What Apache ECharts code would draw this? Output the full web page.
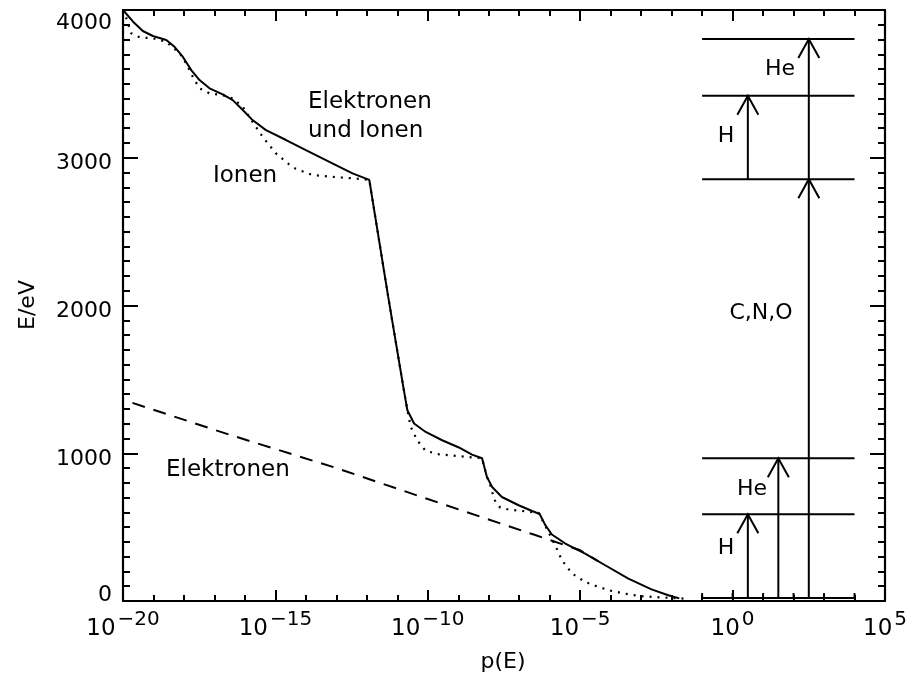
<!DOCTYPE html>
<html><head><meta charset="utf-8">
<script src="https://cdn.jsdelivr.net/npm/echarts@6/dist/echarts.min.js"></script>
<style>html,body{margin:0;padding:0;background:#fff}#c{width:910px;height:677px}</style>
</head><body><div id="c"></div>
<script>
// ---- data (x values are log10 p(E), y values E in eV) ----
const xTickExps = [-20, -15, -10, -5, 0, 5];
const yTickVals = [0, 1000, 2000, 3000, 4000];

// "Elektronen und Ionen" (solid)
const bothLogP = [-20.0,-19.67,-19.35,-19.02,-18.58,-18.31,-18.04,-17.76,-17.49,-17.16,-16.73,-16.40,-16.07,-15.75,-15.31,-14.65,-14.0,-13.13,-12.47,-11.92,-11.3,-10.78,-10.67,-10.45,-10.07,-9.53,-8.98,-8.55,-8.22,-8.06,-7.89,-7.57,-7.02,-6.58,-6.33,-6.15,-5.93,-5.49,-4.84,-4.18,-3.42,-2.66,-2.11,-1.75];
const bothE    = [4000,3921,3858,3824,3797,3751,3684,3593,3526,3470,3429,3390,3323,3255,3187,3120,3052,2962,2894,2850,2060,1420,1291,1201,1144,1088,1039,991,966,840,772,704,648,609,589,515,450,389,321,242,152,79,39,18];

// "Ionen" (dotted)
const ionLogP = [-20.0,-19.94,-19.84,-19.73,-19.45,-19.02,-18.58,-18.14,-17.93,-17.71,-17.49,-17.16,-16.73,-16.40,-16.07,-15.75,-15.42,-14.98,-14.55,-14.33,-13.78,-12.91,-12.15,-11.92,-11.3,-10.78,-10.67,-10.56,-10.35,-10.07,-9.64,-8.98,-8.33,-8.22,-8.06,-7.96,-7.84,-7.76,-7.62,-7.35,-6.8,-6.36,-6.33,-6.1,-5.82,-5.6,-5.27,-4.84,-4.4,-3.97,-3.4,-2.98,-2.22,-1.56];
const ionE    = [4000,3977,3910,3842,3815,3808,3785,3707,3639,3548,3470,3436,3424,3402,3345,3243,3142,3029,2955,2925,2883,2867,2856,2850,2060,1420,1291,1178,1088,1016,993,980,968,966,840,790,704,660,632,619,607,596,589,490,377,276,186,129,95,68,45,32,23,16];

// "Elektronen" (dashed)
const elecLogP = [-20, -16.5, -13, -10, -6.5, -5, -4.4];
const elecE    = [1362, 1125, 900, 690, 448, 343, 268];

// thresholds on the right (E / eV), drawn from p = 10^-1 to 10^4
const levelE = [20, 587, 966, 2855, 3420, 3803];
const levelSpan = [-1, 4];
const levelTickExps = [-1, 0, 1, 2, 3, 4];

// arrows: position (log10 p), from E, to E
const arrowLogP = [0.5, 1.5, 2.5, 0.5, 2.5];
const arrowFrom = [20, 20, 20, 2855, 2855];
const arrowTo   = [587, 966, 2855, 3420, 3803];

// ---- chart ----
const FONT = 'DejaVu Sans';
const zip = (a, b) => a.map((v, i) => [v, b[i]]);
const blk = '#000';

function xAxisDef(pos, labels) {
  return {
    type: 'value', min: -20, max: 5, interval: 5, position: pos,
    axisLine: { show: true, onZero: false, lineStyle: { color: blk, width: 2.2 } },
    axisTick: { show: true, inside: true, length: 11, lineStyle: { color: blk, width: 2 } },
    minorTick: { show: true, splitNumber: 5, length: 6, lineStyle: { color: blk, width: 2 } },
    splitLine: { show: false }, minorSplitLine: { show: false },
    axisLabel: labels ? {
      show: true, margin: 8,
      formatter: v => '{b|10}{s|' + (v < 0 ? '\u2212' : '') + Math.abs(v) + '}',
      rich: {
        b: { fontFamily: FONT, fontSize: 23, color: blk, verticalAlign: 'bottom', lineHeight: 32 },
        s: { fontFamily: FONT, fontSize: 20, color: blk, verticalAlign: 'top', lineHeight: 32, padding: [1, 0, 0, 2] }
      }
    } : { show: false }
  };
}
function yAxisDef(pos, labels) {
  return {
    type: 'value', min: 0, max: 4000, interval: 1000, position: pos,
    axisLine: { show: true, onZero: false, lineStyle: { color: blk, width: 2.2 } },
    axisTick: { show: true, inside: true, length: 15, lineStyle: { color: blk, width: 2 } },
    minorTick: { show: true, splitNumber: 10, length: 7, lineStyle: { color: blk, width: 2 } },
    splitLine: { show: false }, minorSplitLine: { show: false },
    axisLabel: labels ? {
      show: true, margin: 11,
      formatter: v => v === 4000 ? '{hi|' + v + '}' : (v === 0 ? '{lo|' + v + '}' : '{n|' + v + '}'),
      rich: {
        n: { fontFamily: FONT, fontSize: 22, color: blk, padding: [12, 0, 0, 0] },
        hi: { fontFamily: FONT, fontSize: 22, color: blk, padding: [26, 0, 0, 0] },
        lo: { fontFamily: FONT, fontSize: 22, color: blk, padding: [0, 0, 11, 0] }
      }
    } : { show: false }
  };
}

function txt(text, x, y, size, align, rot) {
  return {
    type: 'text', x: x, y: y, rotation: rot || 0, z: 100,
    style: { text: text, fontFamily: FONT, fontSize: size, fill: blk,
      align: align || 'left', verticalAlign: 'middle',
      textAlign: align || 'left', textVerticalAlign: 'middle' }
  };
}

const chart = echarts.init(document.getElementById('c'));
chart.setOption({
  animation: false,
  backgroundColor: '#fff',
  grid: { left: 123, right: 23, top: 10, bottom: 76, containLabel: false },
  xAxis: [xAxisDef('bottom', true), xAxisDef('top', false)],
  yAxis: [yAxisDef('left', true), yAxisDef('right', false)],
  series: [
    { type: 'line', data: zip(elecLogP, elecE), showSymbol: false, symbol: 'none',
      lineStyle: { color: blk, width: 2, type: [13, 9], dashOffset: 12 }, z: 3 },
    { type: 'line', data: zip(ionLogP, ionE), showSymbol: false, symbol: 'none',
      lineStyle: { color: blk, width: 2.2, type: [2, 6], cap: 'butt' }, z: 4 },
    { type: 'line', data: zip(bothLogP, bothE), showSymbol: false, symbol: 'none',
      lineStyle: { color: blk, width: 2 }, z: 5 },
    { type: 'custom', data: levelE.map(e => [levelSpan[0], levelSpan[1], e]),
      encode: { x: [0, 1], y: 2 },
      renderItem: (p, api) => {
        const a = api.coord([api.value(0), api.value(2)]);
        const b = api.coord([api.value(1), api.value(2)]);
        return { type: 'line', shape: { x1: a[0], y1: a[1], x2: b[0], y2: b[1] },
          style: { stroke: blk, lineWidth: 2 } };
      }, z: 6 },
    { type: 'custom', data: levelTickExps.map(x => [x, levelE[0]]),
      encode: { x: 0, y: 1 },
      renderItem: (p, api) => {
        const a = api.coord([api.value(0), api.value(1)]);
        return { type: 'line', shape: { x1: a[0], y1: a[1], x2: a[0], y2: a[1] - 5 },
          style: { stroke: blk, lineWidth: 2 } };
      }, z: 6 },
    { type: 'custom', data: arrowLogP.map((x, i) => [x, arrowFrom[i], arrowTo[i]]),
      encode: { x: 0, y: [1, 2] },
      renderItem: (p, api) => {
        const a = api.coord([api.value(0), api.value(1)]);
        const b = api.coord([api.value(0), api.value(2)]);
        const st = { stroke: blk, lineWidth: 2, fill: null };
        return { type: 'group', children: [
          { type: 'line', shape: { x1: a[0], y1: a[1], x2: b[0], y2: b[1] }, style: st },
          { type: 'polyline', shape: { points: [[b[0] - 10.5, b[1] + 19], [b[0], b[1]], [b[0] + 10.5, b[1] + 19]] }, style: st }
        ] };
      }, z: 7 }
  ],
  graphic: [
    txt('Elektronen', 308, 102, 23),
    txt('und Ionen', 308, 131, 23),
    txt('Ionen', 213, 176, 23),
    txt('Elektronen', 166, 470, 23),
    txt('He', 780, 69, 22, 'center'),
    txt('H', 726, 136, 22, 'center'),
    txt('C,N,O', 761, 313, 22, 'center'),
    txt('He', 752, 489, 22, 'center'),
    txt('H', 726, 548, 22, 'center'),
    txt('p(E)', 503, 662, 22, 'center'),
    txt('E/eV', 28, 305, 22, 'center', Math.PI / 2)
  ]
});
</script></body></html>
